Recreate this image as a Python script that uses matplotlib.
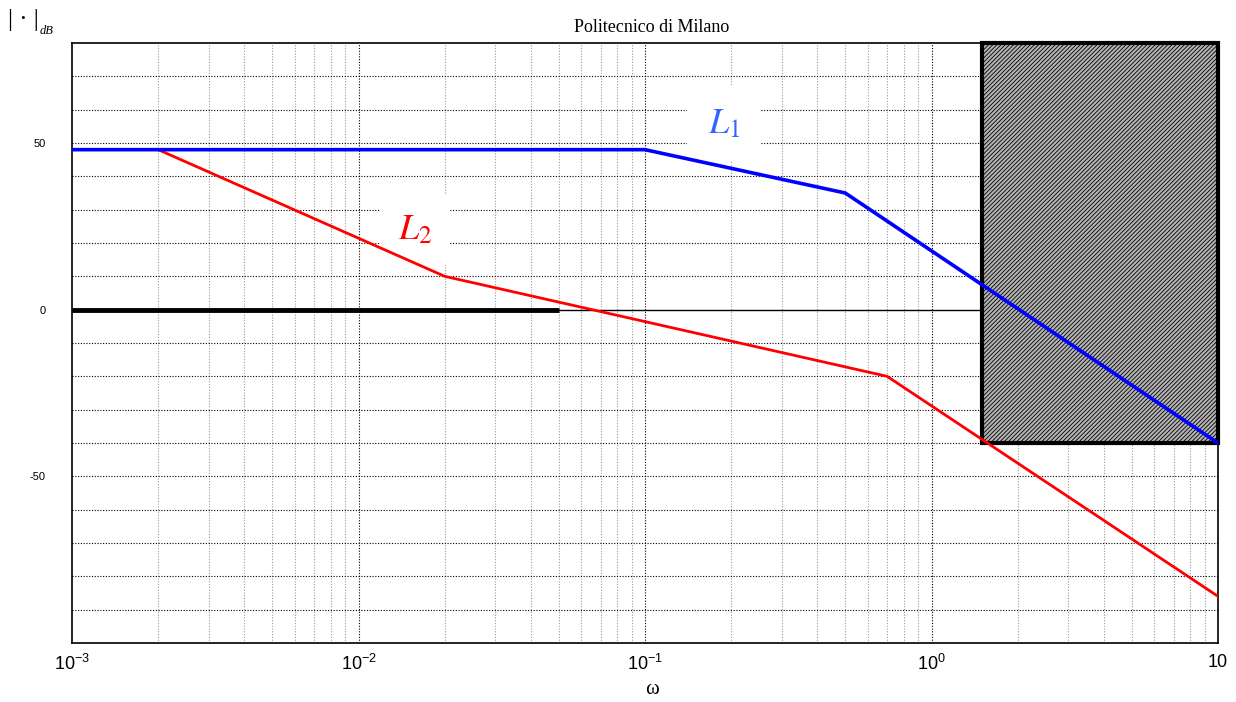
import matplotlib
matplotlib.use("Agg")
import matplotlib.pyplot as plt
from matplotlib.patches import Rectangle
import numpy as np

plt.rcParams["mathtext.fontset"] = "stix"
plt.rcParams["hatch.color"] = "#3a3a3a"
plt.rcParams["hatch.linewidth"] = 0.6

# Asymptotic Bode magnitude diagrams
w_L1 = [1e-3, 0.1, 0.5, 10]
L1_db = [48, 48, 35, -40]

w_L2 = [2e-3, 0.02, 0.7, 10]
L2_db = [48, 10, -20, -86]

# low-frequency specification segment at 0 dB
w_spec = [1e-3, 0.05]
spec_db = [0, 0]

# forbidden region (high-frequency constraint)
rect_w = [1.5, 10]
rect_db = [-40, 80]

xticks = [1e-3, 1e-2, 1e-1, 1, 10]
xtick_labels = [r"$\mathregular{10^{-3}}$", r"$\mathregular{10^{-2}}$",
                r"$\mathregular{10^{-1}}$", r"$\mathregular{10^{0}}$", "10"]
yticks = [50, 0, -50]

fig = plt.figure(figsize=(12.36, 7.02), dpi=100)
ax = fig.add_axes([72/1236, 1-643/702, (1218-72)/1236, 600/702])
ax.set_xscale("log")
ax.set_xlim(1e-3, 10)
ax.set_ylim(-100, 80)

# grid: decades in black dots, intermediate frequencies in grey dots
for dec in range(-3, 1):
    for k in range(2, 10):
        ax.axvline(k*10**dec, color="#999999", lw=0.8, ls=(0, (1, 1.5)), zorder=1)
    if dec > -3:
        ax.axvline(10**dec, color="black", lw=0.8, ls=(0, (1, 1.5)), zorder=1)
for yv in np.arange(-90, 80, 10):
    if yv == 0:
        ax.axhline(0, color="black", lw=1.0, zorder=1)
    else:
        ax.axhline(yv, color="black", lw=0.8, ls=(0, (1, 1.5)), zorder=1)

ax.add_patch(Rectangle((rect_w[0], rect_db[0]), rect_w[1]-rect_w[0], rect_db[1]-rect_db[0],
                       facecolor="#b4b4b4", edgecolor="black", hatch="////////",
                       lw=3, zorder=2, clip_on=False))

ax.plot(w_spec, spec_db, color="black", lw=3.5, zorder=3, solid_capstyle="butt")
ax.plot(w_L2, L2_db, color="red", lw=2.0, zorder=4)
ax.plot(w_L1, L1_db, color="blue", lw=2.6, zorder=5)

# curve labels on white patches that hide the grid but sit below the curves
ax.text(0.166, 56, r"$L_1$", color="#3366ff", fontsize=26, ha="left", va="center",
        zorder=1.5, bbox=dict(facecolor="white", edgecolor="none", pad=15))
ax.text(0.0137, 24, r"$L_2$", color="red", fontsize=26, ha="left", va="center",
        zorder=1.5, bbox=dict(facecolor="white", edgecolor="none", pad=13))

ax.set_xticks(xticks)
ax.set_xticklabels(xtick_labels, fontfamily="Liberation Sans", fontsize=13)
ax.xaxis.set_minor_locator(matplotlib.ticker.NullLocator())
ax.set_yticks(yticks)
ax.set_yticklabels([str(v) for v in yticks], fontfamily="Liberation Sans", fontsize=8)
ax.tick_params(axis="x", length=0, pad=8)
ax.tick_params(axis="y", length=0, pad=19)
for s in ax.spines.values():
    s.set_linewidth(1.2)
    s.set_color("black")

fig.text(652/1236, 1-27/702, "Politecnico di Milano", ha="center", va="center",
         fontfamily="Liberation Serif", fontsize=13)
fig.text(652/1236, 1-690/702, "ω", ha="center", va="center",
         fontfamily="Liberation Serif", fontsize=15)
fig.text(8/1236, 1-20/702, "| · |", ha="left", va="center",
         fontfamily="Liberation Serif", fontsize=18)
fig.text(40/1236, 1-31/702, "dB", ha="left", va="center",
         fontfamily="Liberation Serif", fontstyle="italic", fontsize=9)

fig.savefig("out.png", dpi=100)
